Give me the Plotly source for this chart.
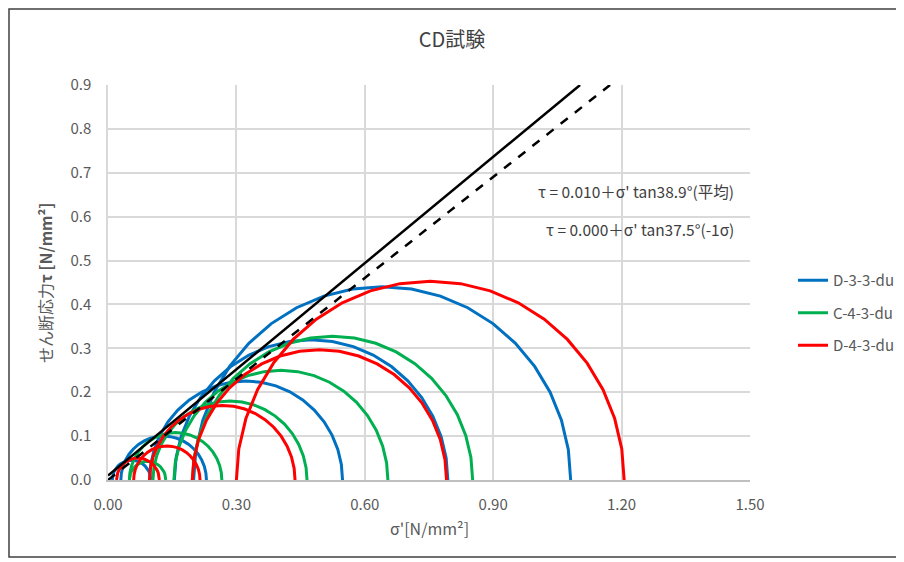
import numpy as np
import plotly.graph_objects as go

# ---- data ----
series_names = ["D-3-3-du", "C-4-3-du", "D-4-3-du"]
series_colors = ["#0070C0", "#00B050", "#FF0000"]

blue_sigma3 = [0.010, 0.030, 0.097, 0.155, 0.200]
blue_sigma1 = [0.100, 0.230, 0.548, 0.794, 1.081]

green_sigma3 = [0.050, 0.050, 0.105, 0.154, 0.197]
green_sigma1 = [0.135, 0.266, 0.465, 0.654, 0.852]

red_sigma3 = [0.020, 0.060, 0.097, 0.197, 0.300]
red_sigma1 = [0.120, 0.215, 0.437, 0.791, 1.206]

# failure envelopes: tau = c + sigma * tan(phi)
env_c = [0.010, 0.000]
env_phi = [38.9, 37.5]
env_sigma_end = [1.103, 1.173]
env_labels = ["τ = 0.010＋σ' tan38.9°(平均)", "τ = 0.000＋σ' tan37.5°(-1σ)"]

x_ticks = [0.00, 0.30, 0.60, 0.90, 1.20, 1.50]
y_ticks = [0.0, 0.1, 0.2, 0.3, 0.4, 0.5, 0.6, 0.7, 0.8, 0.9]

FONT = "Noto Sans CJK JP"

# page offset of the figure (body margin) and figure size
OFF = 8
W, H = 904 - OFF, 562 - OFF
# plot-area geometry in page pixels
L, R, T, B = 108, 750, 85, 480
PW, PH = R - L, B - T


def px_x(p):
    return (p - L) / PW


def px_y(p):
    return (B - p) / PH


def mohr(s3_list, s1_list, n=20):
    xs, ys = [], []
    th = np.linspace(np.pi, 0, n + 1)
    for s3, s1 in zip(s3_list, s1_list):
        c = (s1 + s3) / 2
        r = (s1 - s3) / 2
        xs += list(c + r * np.cos(th)) + [None]
        ys += list(r * np.sin(th)) + [None]
    return xs, ys


fig = go.Figure()

for i, (s3, s1) in enumerate([(blue_sigma3, blue_sigma1),
                               (green_sigma3, green_sigma1),
                               (red_sigma3, red_sigma1)]):
    xs, ys = mohr(s3, s1)
    fig.add_trace(go.Scatter(x=xs, y=ys, mode="lines", name=series_names[i],
                             line=dict(color=series_colors[i], width=3),
                             connectgaps=False, legendgroup=series_names[i]))

dashes = ["solid", "dash"]
for c, phi, xe, d in zip(env_c, env_phi, env_sigma_end, dashes):
    xs = [0.0, xe]
    ys = [c + x * np.tan(np.radians(phi)) for x in xs]
    fig.add_trace(go.Scatter(x=xs, y=ys, mode="lines", showlegend=False,
                             line=dict(color="black", width=2.5, dash=d)))

# annotations for envelope equations
for lbl, yv in zip(env_labels, [0.658, 0.572]):
    fig.add_annotation(x=1.468, y=yv, xref="x", yref="y", text=lbl,
                       showarrow=False, xanchor="right", yanchor="middle",
                       font=dict(family=FONT, size=15.5, color="#404040"))

# axis titles
fig.add_annotation(x=px_x(45), y=px_y(283), xref="paper", yref="paper",
                   text="せん断応力<b>τ [N/mm²]</b>", textangle=-90,
                   showarrow=False, xanchor="center", yanchor="middle",
                   font=dict(family=FONT, size=16, color="#595959"))
fig.add_annotation(x=px_x(430), y=px_y(528), xref="paper", yref="paper",
                   text="σ'[N/mm²]", showarrow=False,
                   xanchor="center", yanchor="middle",
                   font=dict(family=FONT, size=16, color="#595959"))

# outer chart border
fig.add_shape(type="rect", xref="paper", yref="paper",
              x0=px_x(OFF + 1), x1=px_x(899), y0=px_y(557), y1=px_y(OFF + 1),
              line=dict(color="#404040", width=1.5), layer="below")

fig.update_layout(
    width=W, height=H,
    margin=dict(l=L - OFF, r=W - (R - OFF), t=T - OFF, b=H - (B - OFF),
                autoexpand=False),
    paper_bgcolor="white", plot_bgcolor="white",
    font=dict(family=FONT, color="#595959", size=15),
    title=dict(text="CD試験", x=(452 - OFF) / W, xref="container", xanchor="center",
               y=1 - (40 - OFF) / H, yref="container", yanchor="middle",
               font=dict(family=FONT, size=20, color="#404040")),
    legend=dict(x=px_x(793), y=px_y(313), xanchor="left",
                yanchor="middle", font=dict(family=FONT, size=15, color="#595959"),
                tracegroupgap=10, bgcolor="rgba(0,0,0,0)"),
    showlegend=True,
)

fig.update_xaxes(range=[0, 1.5], tickvals=x_ticks,
                 ticktext=[f"{v:.2f}" for v in x_ticks], automargin=False,
                 showgrid=True, gridcolor="#D9D9D9", gridwidth=1.5,
                 zeroline=False, showline=True, linecolor="#BFBFBF", linewidth=1.5,
                 ticks="", ticklabelstandoff=10,
                 tickfont=dict(family=FONT, size=15, color="#595959"))
fig.update_yaxes(range=[0, 0.9], tickvals=y_ticks,
                 ticktext=[f"{v:.1f}" for v in y_ticks], automargin=False,
                 showgrid=True, gridcolor="#D9D9D9", gridwidth=1.5,
                 zeroline=False, showline=True, linecolor="#D9D9D9", linewidth=1.5,
                 ticks="", ticklabelstandoff=12,
                 tickfont=dict(family=FONT, size=15, color="#595959"))

fig.write_html("out.html")
